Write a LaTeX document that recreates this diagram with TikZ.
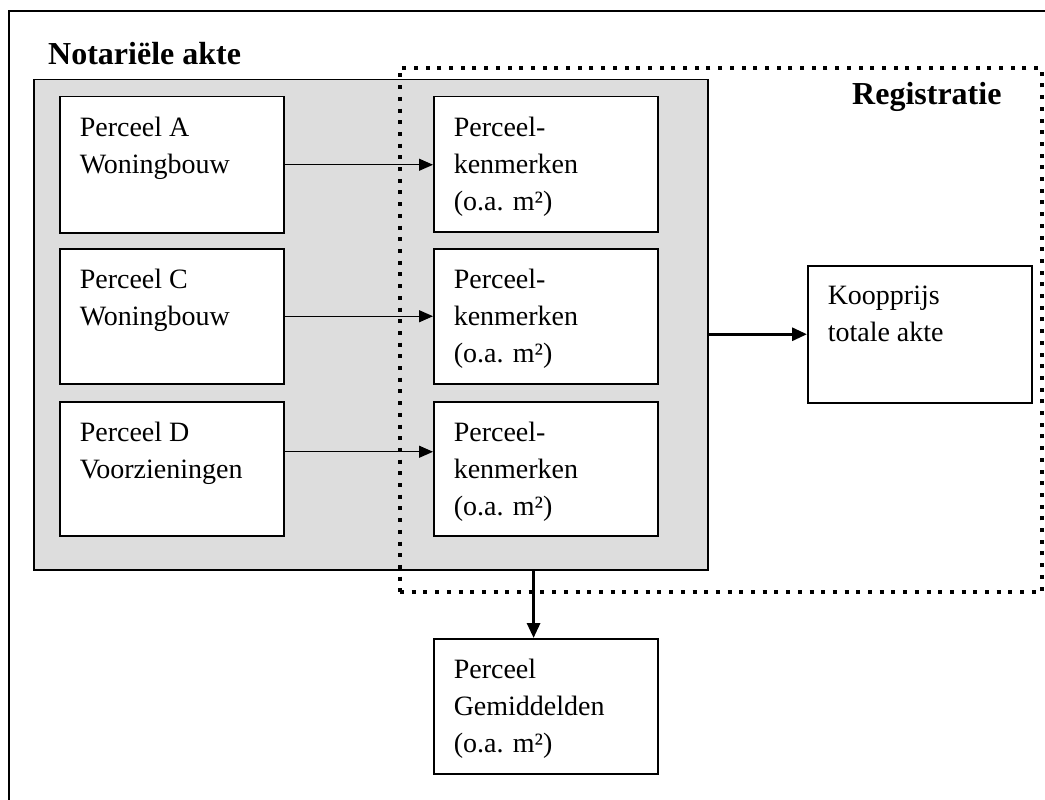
\documentclass[tikz,border=0pt]{standalone}
\usepackage{fontspec}
\setmainfont{Liberation Serif}
\usetikzlibrary{arrows.meta,calc}
\definecolor{aktegrey}{RGB}{221,221,221}
\tikzstyle{cell}=[draw, fill=white, line width=1.5pt, anchor=north west, inner xsep=20pt, inner ysep=20pt, font=\fontsize{28}{37}\selectfont]
\tikzstyle{title}=[anchor=base west, inner sep=0pt, font=\fontsize{32}{38}\selectfont\bfseries]
\tikzstyle{thin>}=[line width=1.3pt, -{Triangle[length=14pt,width=12pt]}]
\tikzstyle{thick>}=[line width=3pt, -{Triangle[length=15pt,width=13pt]}]
\newcommand{\celltext}[2]{\parbox[t][#1][t]{184pt}{#2}}
\newcommand{\kenmerken}{Perceel-\\kenmerken\\(o.a. m²)}

\begin{document}
\begin{tikzpicture}[x=1pt,y=-1pt]
\useasboundingbox (0,0) rectangle (1045,800);
\draw[line width=1.5pt] (9,11) rectangle (1060,815);
\node[draw, fill=aktegrey, line width=1.5pt, anchor=north west, inner sep=0pt, minimum width=674pt, minimum height=490pt] (akte) at (33,79) {};
\node[draw, line width=4pt, dash pattern=on 4pt off 7.7pt, anchor=north west, inner sep=0pt, minimum width=642pt, minimum height=524pt] (reg) at (398,66) {};
\node[title] (aktetitle) at (48,65) {Notariële akte};
\node[title] (regtitle) at (852,105) {Registratie};
\node[cell] (pa) at (59,96) {\celltext{96pt}{Perceel A\\Woningbouw}};
\node[cell] (pc) at (59,248) {\celltext{95pt}{Perceel C\\Woningbouw}};
\node[cell] (pd) at (59,401) {\celltext{94pt}{Perceel D\\Voorzieningen}};
\node[cell] (ka) at (433,96) {\celltext{95pt}{\kenmerken}};
\node[cell] (kc) at (433,248) {\celltext{95pt}{\kenmerken}};
\node[cell] (kd) at (433,401) {\celltext{94pt}{\kenmerken}};
\node[cell] (koop) at (807,265) {\celltext{97pt}{Koopprijs\\totale akte}};
\node[cell] (gem) at (433,638) {\celltext{95pt}{Perceel\\Gemiddelden\\(o.a. m²)}};
\coordinate (gemin) at ($(gem.north west)!0.446!(gem.north east)$);
\draw[thin>] (pa.east) -- (pa.east -| ka.west);
\draw[thin>] (pc.east) -- (pc.east -| kc.west);
\draw[thin>] ([yshift=17pt]pd.east) -- ([yshift=17pt]pd.east -| kd.west);
\draw[thick>] (koop.west -| akte.east) -- (koop.west);
\draw[thick>] (akte.south -| gemin) -- (gemin);
\end{tikzpicture}
\end{document}
